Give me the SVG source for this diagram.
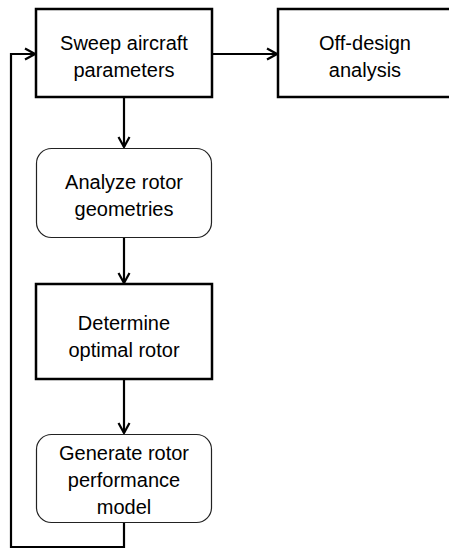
<svg xmlns="http://www.w3.org/2000/svg" width="449" height="550" viewBox="0 0 449 550">
<defs>
<style>
.box{fill:#fff;stroke:#000;stroke-width:2.5}
.rbox{fill:#fff;stroke:#222;stroke-width:1.2}
.t{font-family:"Liberation Sans",Arial,sans-serif;font-size:20px;fill:#000;text-anchor:middle}
.c{fill:none;stroke:#000;stroke-width:2.2}
</style>
<marker id="ah" markerUnits="userSpaceOnUse" markerWidth="14" markerHeight="14" viewBox="0 0 14 14" refX="12" refY="7" orient="auto">
<path d="M2,1.5 L12,7 L2,12.5" fill="none" stroke="#000" stroke-width="2.2"/>
</marker>
</defs>
<rect width="449" height="550" fill="#fff"/>
<g id="connectors">
<path class="c" d="M124,97 V147" marker-end="url(#ah)"/>
<path class="c" d="M212,54 H277" marker-end="url(#ah)"/>
<path class="c" d="M124,238 V283" marker-end="url(#ah)"/>
<path class="c" d="M124,379 V433" marker-end="url(#ah)"/>
<path class="c" d="M124,523 V547 H11 V54 H35" marker-end="url(#ah)"/>
</g>
<g id="sweep">
<rect class="box" x="36" y="9" width="176" height="88"/>
<text class="t" x="124" y="50">Sweep aircraft</text>
<text class="t" x="124" y="77">parameters</text>
</g>
<g id="offdesign">
<rect class="box" x="278" y="9" width="176" height="88"/>
<text class="t" x="365" y="50">Off-design</text>
<text class="t" x="365" y="77">analysis</text>
</g>
<g id="analyze">
<rect class="rbox" x="36.5" y="148.5" width="175" height="89" rx="15"/>
<text class="t" x="124" y="189">Analyze rotor</text>
<text class="t" x="124" y="216">geometries</text>
</g>
<g id="determine">
<rect class="box" x="36" y="284" width="176" height="95"/>
<text class="t" x="124" y="330">Determine</text>
<text class="t" x="124" y="357">optimal rotor</text>
</g>
<g id="generate">
<rect class="rbox" x="36.5" y="434.5" width="175" height="88" rx="15"/>
<text class="t" x="124" y="460">Generate rotor</text>
<text class="t" x="124" y="487">performance</text>
<text class="t" x="124" y="514">model</text>
</g>
</svg>
